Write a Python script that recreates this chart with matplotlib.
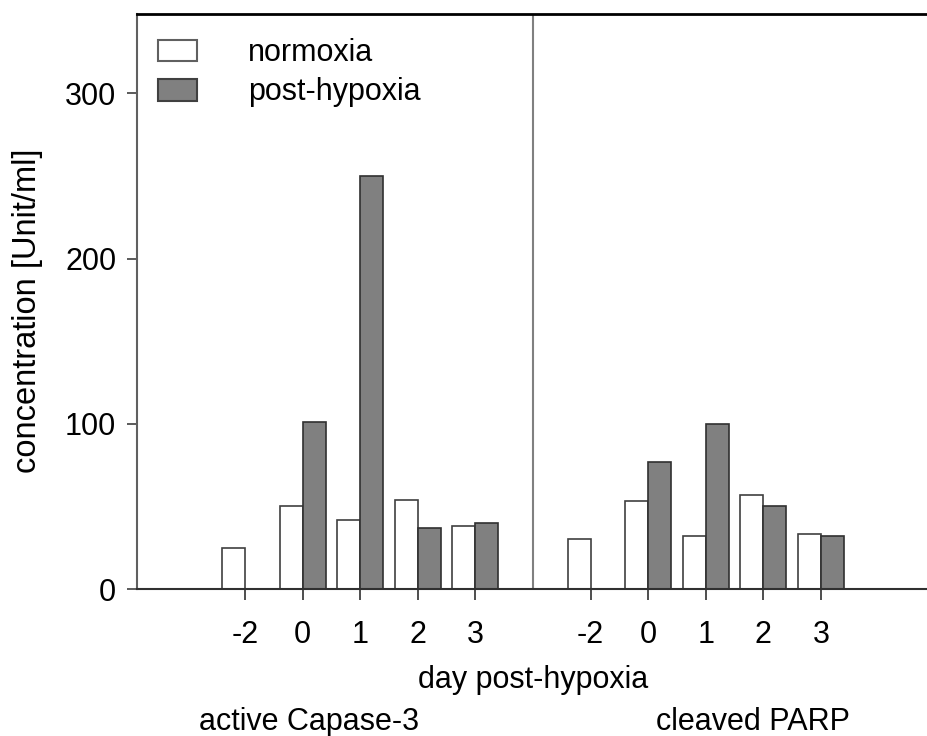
import matplotlib
matplotlib.use("Agg")
import matplotlib.pyplot as plt
import numpy as np
from matplotlib.patches import Patch

plt.rcParams['font.family'] = ['Liberation Sans', 'DejaVu Sans']

days = ["-2", "0", "1", "2", "3"]
groups = ["active Capase-3", "cleaved PARP"]

# values per group, per day (nan = no bar)
caspase_normoxia = [25, 50, 42, 54, 38]
caspase_hypoxia = [np.nan, 101, 250, 37, 40]
parp_normoxia = [30, 53, 32, 57, 33]
parp_hypoxia = [np.nan, 77, 100, 50, 32]

FS = 22

fig = plt.figure(figsize=(9.27, 7.36), dpi=100)
ax = fig.add_axes([0.1478, 0.1997, 0.8522, 0.7813])

pos_left = np.arange(len(days))
pos_right = pos_left + len(days) + 1
width = 0.4

for pos, norm, hyp in [(pos_left, caspase_normoxia, caspase_hypoxia),
                       (pos_right, parp_normoxia, parp_hypoxia)]:
    ax.bar(pos, norm, width=-width, align='edge', color='white',
           edgecolor='#404040', linewidth=1.2, zorder=2)
    ax.bar(pos, hyp, width=width, align='edge', color='#808080',
           edgecolor='#303030', linewidth=1.2, zorder=2)

# divider between the two panels
ax.axvline(len(days), color='#808080', linewidth=1.5, zorder=1)

ax.set_xlim(-1.875, 11.84)
ax.set_ylim(0, 348)
ax.set_yticks([0, 100, 200, 300])
ax.set_xticks(np.concatenate([pos_left, pos_right]))
ax.set_xticklabels(days + days)

ax.spines['right'].set_visible(False)
ax.spines['bottom'].set_visible(False)
ax.axhline(0, color='#303030', linewidth=1.5, zorder=3, clip_on=False)
ax.spines['top'].set_linewidth(2)
ax.spines['left'].set_color('#606060')
ax.spines['left'].set_linewidth(1.5)

ax.tick_params(axis='y', direction='out', length=7, width=1.2,
               labelsize=FS, pad=8, color='#404040')
ax.tick_params(axis='x', direction='out', length=8, width=1.2,
               labelsize=FS, pad=14, color='#303030')

ax.set_ylabel("concentration [Unit/ml]", fontsize=23.5, va='center')
ax.yaxis.set_label_coords(-0.139, 0.484)
ax.set_xlabel("day post-hypoxia", fontsize=FS, va='center')
ax.xaxis.set_label_coords(0.502, -0.158)

# group names under the axis
ax.text(1.12, -0.232, groups[0], transform=ax.get_xaxis_transform(),
        ha='center', va='center', fontsize=FS)
ax.text(8.82, -0.232, groups[1], transform=ax.get_xaxis_transform(),
        ha='center', va='center', fontsize=FS)

handles = [Patch(facecolor='white', edgecolor='#606060', linewidth=1.5),
           Patch(facecolor='#808080', edgecolor='#404040', linewidth=1.5)]
ax.legend(handles, ["normoxia", "post-hypoxia"], loc='upper left',
          bbox_to_anchor=(0.0266, 0.958), frameon=False, fontsize=FS,
          borderpad=0, borderaxespad=0,
          handlelength=1.28, handleheight=0.72, handletextpad=1.67,
          labelspacing=0.3)

fig.savefig("out.png", dpi=100)
